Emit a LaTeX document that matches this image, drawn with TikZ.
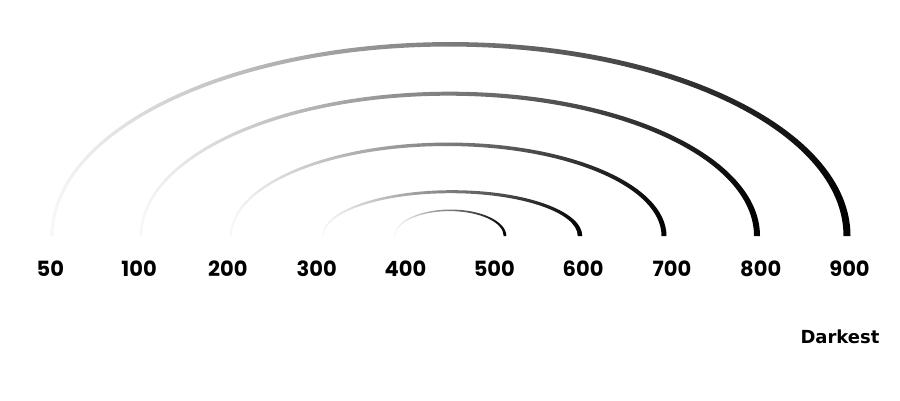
\documentclass[tikz,border=0pt]{standalone}
\usepackage{fontspec}
\setsansfont{DejaVu Sans}
\newfontfamily\numfont{Poppins}
\usepackage{tikz}
\usetikzlibrary{positioning}

\tikzset{
  weight/.style={font=\numfont\bfseries\fontsize{21}{21}\selectfont, anchor=base, inner sep=0pt},
  note/.style={font=\sffamily\bfseries\fontsize{18}{18}\selectfont, anchor=base, inner sep=0pt},
  ramp/.style={left color=black!3, right color=black, draw=none}
}

\begin{document}
\begin{tikzpicture}[x=1pt,y=1pt]
\useasboundingbox (0,0) rectangle (900,400);
% arcs: centre x / x radius / y radius / width left / top / right
\foreach \cx/\rx/\ry/\wl/\wt/\wr in {449.5/397.5/191.7/3/4.5/7, 449/308/142.3/2.5/4/6,
    447.5/216.5/91.7/2/3.5/5, 451.5/128.5/44.3/1.5/3/4.5, 450/55/25.7/1/1.6/2.6}
  \shade[ramp] ({\cx-\rx-\wl/2},164)
    arc[start angle=180, end angle=0, x radius={\rx+(\wl+\wr)/4}, y radius={\ry+\wt/2}]
    -- ({\cx+\rx-\wr/2},164)
    arc[start angle=0, end angle=180, x radius={\rx-(\wl+\wr)/4}, y radius={\ry-\wt/2}]
    -- cycle;
\foreach \v [count=\i from 0] in {50,100,200,300,400,500,600,700,800,900}
  \node[weight] (w\v) at ({50.3+88.8*\i},124) {\v};
\node[note] (darkest) at (840,57) {Darkest};
\end{tikzpicture}
\end{document}
